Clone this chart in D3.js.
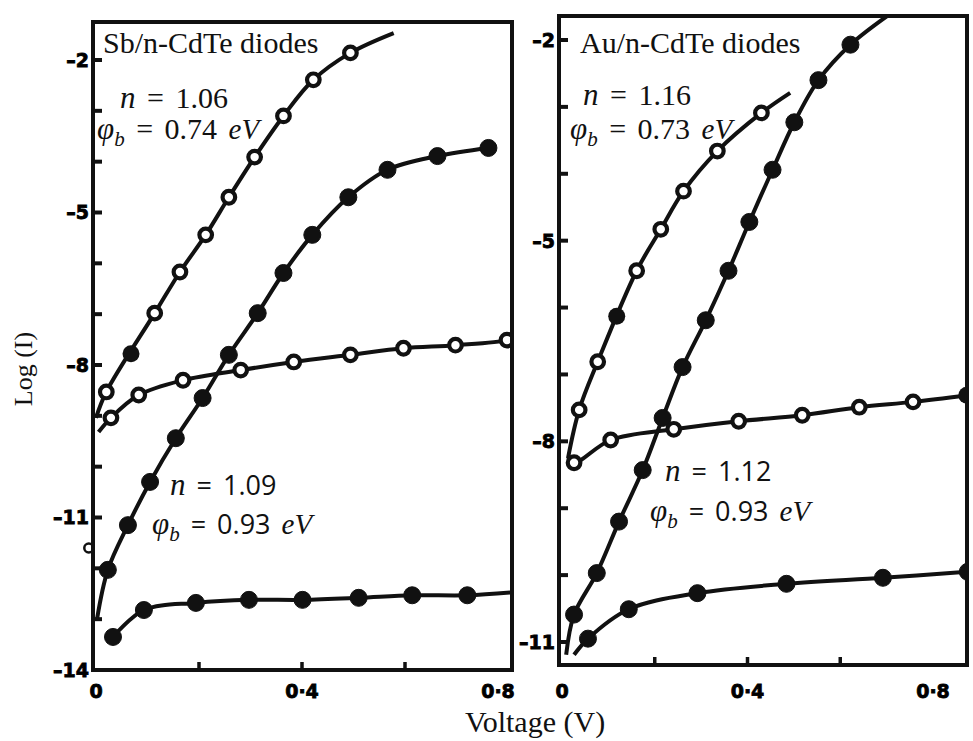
<!DOCTYPE html>
<html>
<head>
<meta charset="utf-8">
<script src="https://cdn.jsdelivr.net/npm/d3@7"></script>
<style>
  body { margin: 0; background: #fff; }
  .tick-lab { font-family: "DejaVu Sans", sans-serif; font-weight: bold; font-size: 19px; fill: #000; stroke: #000; stroke-width: 0.8px; }
  .title { font-family: "Liberation Serif", serif; font-size: 30px; fill: #111; }
  .ann { font-family: "Liberation Serif", serif; font-size: 30px; fill: #111; word-spacing: 4px; }
  .ann2 { font-family: "Open Sans", sans-serif; font-size: 27px; fill: #111; word-spacing: 4px; }
  .axis-lab { font-family: "Liberation Serif", serif; font-size: 30px; fill: #111; }
</style>
</head>
<body>
<div id="chart"></div>
<script>
// ---- data: [voltage (V), log(I)] ----
// Sb/n-CdTe panel
const sbOpenSteep = [[0.02,-8.53],[0.114,-6.98],[0.163,-6.17],[0.213,-5.44],[0.258,-4.70],[0.308,-3.91],[0.364,-3.10],[0.422,-2.39],[0.494,-1.86]]
const sbOpenSteepEnds = [[0.0,-9.04],[0.578,-1.47]]
const sbFilledSteep = [[0.023,-12.03],[0.062,-11.15],[0.105,-10.30],[0.155,-9.44],[0.207,-8.65],[0.258,-7.80],[0.314,-6.98],[0.364,-6.19],[0.42,-5.44],[0.49,-4.70],[0.566,-4.16],[0.663,-3.89],[0.762,-3.73]]
const sbFilledSteepEnds = [[0.002,-13.0],null]
const sbOpenFlat = [[0.029,-9.04],[0.083,-8.59],[0.169,-8.30],[0.281,-8.10],[0.384,-7.94],[0.494,-7.80],[0.597,-7.67],[0.698,-7.61],[0.798,-7.51]]
const sbOpenFlatEnds = [[0.005,-9.32],[0.81,-7.45]]
const sbFilledFlat = [[0.033,-13.35],[0.093,-12.82],[0.194,-12.68],[0.297,-12.62],[0.401,-12.62],[0.51,-12.58],[0.614,-12.53],[0.721,-12.53]]
const sbFilledFlatEnds = [null,[0.81,-12.47]]
const sbOddFilled = [[0.068,-7.78]]
const sbOddOpen = [[-0.014,-11.6]]

// Au/n-CdTe panel
const auOpenSteep = [[0.037,-7.53],[0.077,-6.81],[0.161,-5.45],[0.213,-4.83],[0.262,-4.26],[0.335,-3.66],[0.43,-3.09]]
const auOpenSteepEnds = [[0.013,-8.25],[0.492,-2.79]]
const auFilledSteep = [[0.026,-10.59],[0.075,-9.97],[0.123,-9.20],[0.174,-8.43],[0.217,-7.65],[0.26,-6.89],[0.31,-6.19],[0.359,-5.45],[0.404,-4.72],[0.454,-3.94],[0.501,-3.23],[0.553,-2.60],[0.622,-2.07]]
const auFilledSteepEnds = [[0.009,-11.19],[0.72,-1.55]]
const auOpenFlat = [[0.026,-8.32],[0.105,-7.98],[0.241,-7.82],[0.381,-7.70],[0.518,-7.61],[0.641,-7.49],[0.757,-7.41]]
const auOpenFlatEnds = [[0.013,-8.23],[0.873,-7.31]]
const auFilledFlat = [[0.056,-10.95],[0.144,-10.51],[0.292,-10.27],[0.484,-10.13],[0.692,-10.04],[0.875,-9.95]]
const auFilledFlatEnds = [[0.026,-11.19],null]
const auOddFilled = [[0.118,-6.13],[0.873,-7.31]]

const xTickLabels = ['0','0·4','0·8']
const xTickValues = [0, 0.4, 0.8]
const xMinorTicks = [0.2, 0.4, 0.6]
const sbYLabels = [-2,-5,-8,-11,-14]
const auYLabels = [-2,-5,-8,-11]

const width = 973, height = 741

const svg = d3.select('#chart').append('svg')
  .attr('width', width)
  .attr('height', height)

const panels = [
  {
    id: 'sb', frame: [93, 22, 512, 670],
    x: d3.scaleLinear().domain([0, 0.8]).range([96, 508]),
    y: d3.scaleLinear().domain([-2, -14]).range([60, 670]),
    yLabels: sbYLabels, yMinor: d3.range(-2, -14, -1),
    series: [
      {pts: sbOpenSteep, ends: sbOpenSteepEnds, open: true},
      {pts: sbFilledSteep, ends: sbFilledSteepEnds, open: false},
      {pts: sbOpenFlat, ends: sbOpenFlatEnds, open: true},
      {pts: sbFilledFlat, ends: sbFilledFlatEnds, open: false}
    ],
    oddFilled: sbOddFilled, oddOpen: sbOddOpen,
    title: 'Sb/n-CdTe diodes', titlePos: [103, 53],
    ann: [
      {n: '1.06', phi: '0.74', np: [120, 108], pp: [97, 139], sans: false},
      {n: '1.09', phi: '0.93', np: [170, 495], pp: [152, 534], sans: true}
    ]
  },
  {
    id: 'au', frame: [559, 16, 967, 665],
    x: d3.scaleLinear().domain([0, 0.8]).range([562, 933]),
    y: d3.scaleLinear().domain([-2, -11]).range([40, 642]),
    yLabels: auYLabels, yMinor: d3.range(-2, -12, -1),
    series: [
      {pts: auOpenSteep, ends: auOpenSteepEnds, open: true},
      {pts: auFilledSteep, ends: auFilledSteepEnds, open: false},
      {pts: auOpenFlat, ends: auOpenFlatEnds, open: true},
      {pts: auFilledFlat, ends: auFilledFlatEnds, open: false}
    ],
    oddFilled: auOddFilled, oddOpen: [],
    title: 'Au/n-CdTe diodes', titlePos: [580, 53],
    ann: [
      {n: '1.16', phi: '0.73', np: [583, 105], pp: [570, 139], sans: false},
      {n: '1.12', phi: '0.93', np: [665, 481], pp: [650, 521], sans: true}
    ]
  }
]

panels.forEach(p => {
  const [x0, y0, x1, y1] = p.frame
  const g = svg.append('g')

  g.append('clipPath').attr('id', 'clip-' + p.id)
    .append('rect').attr('x', x0).attr('y', y0).attr('width', x1 - x0).attr('height', y1 - y0)

  // curves
  const line = d3.line()
    .x(d => p.x(d[0]))
    .y(d => p.y(d[1]))
    .curve(d3.curveCatmullRom.alpha(0.5))

  const plot = g.append('g').attr('clip-path', 'url(#clip-' + p.id + ')')

  p.series.forEach(s => {
    let all = s.pts.slice()
    if (s.ends[0]) all.unshift(s.ends[0])
    if (s.ends[1]) all.push(s.ends[1])
    plot.append('path')
      .attr('d', line(all))
      .attr('fill', 'none')
      .attr('stroke', '#111')
      .attr('stroke-width', 4)
  })

  p.series.forEach(s => {
    plot.selectAll(null)
      .data(s.pts)
      .enter()
      .append('circle')
      .attr('cx', d => p.x(d[0]))
      .attr('cy', d => p.y(d[1]))
      .attr('r', s.open ? 6.3 : 8.5)
      .attr('fill', s.open ? '#fff' : '#111')
      .attr('stroke', '#111')
      .attr('stroke-width', s.open ? 4.2 : 1)
  })

  plot.selectAll(null)
    .data(p.oddFilled)
    .enter()
    .append('circle')
    .attr('cx', d => p.x(d[0]))
    .attr('cy', d => p.y(d[1]))
    .attr('r', 8.5)
    .attr('fill', '#111')

  g.selectAll(null)
    .data(p.oddOpen)
    .enter()
    .append('circle')
    .attr('cx', d => p.x(d[0]))
    .attr('cy', d => p.y(d[1]))
    .attr('r', 4.5)
    .attr('fill', '#fff')
    .attr('stroke', '#111')
    .attr('stroke-width', 2.5)

  // frame
  g.append('rect')
    .attr('x', x0).attr('y', y0)
    .attr('width', x1 - x0).attr('height', y1 - y0)
    .attr('fill', 'none')
    .attr('stroke', '#111')
    .attr('stroke-width', 4)

  // y ticks (inward)
  g.selectAll(null)
    .data(p.yMinor)
    .enter()
    .append('line')
    .attr('x1', x0).attr('x2', x0 + 9)
    .attr('y1', d => p.y(d)).attr('y2', d => p.y(d))
    .attr('stroke', '#111').attr('stroke-width', 4)

  g.selectAll(null)
    .data(p.yLabels)
    .enter()
    .append('text')
    .attr('class', 'tick-lab')
    .attr('x', x0 - 4)
    .attr('y', d => p.y(d))
    .attr('dy', '0.36em')
    .attr('text-anchor', 'end')
    .text(d => '\u2013' + Math.abs(d))

  // x ticks
  g.selectAll(null)
    .data(xMinorTicks)
    .enter()
    .append('line')
    .attr('x1', d => p.x(d)).attr('x2', d => p.x(d))
    .attr('y1', y1).attr('y2', y1 - 8)
    .attr('stroke', '#111').attr('stroke-width', 3.5)

  g.selectAll(null)
    .data(xTickValues)
    .enter()
    .append('text')
    .attr('class', 'tick-lab')
    .attr('x', (d, i) => p.x(d) + (i === 2 && p.id === 'sb' ? -10 : 0))
    .attr('y', 698)
    .attr('text-anchor', 'middle')
    .text((d, i) => xTickLabels[i])

  // title
  g.append('text')
    .attr('class', 'title')
    .attr('x', p.titlePos[0]).attr('y', p.titlePos[1])
    .text(p.title)

  // annotations
  p.ann.forEach(a => {
    const cls = a.sans ? 'ann2' : 'ann'
    const t1 = g.append('text').attr('class', cls).attr('x', a.np[0]).attr('y', a.np[1])
    t1.append('tspan').attr('font-family', 'Liberation Serif, serif').attr('font-style', 'italic').attr('font-size', 31).text('n')
    t1.append('tspan').text(' = ' + a.n)

    const t2 = g.append('text').attr('class', cls).attr('x', a.pp[0]).attr('y', a.pp[1])
    t2.append('tspan').attr('font-family', 'Liberation Serif, serif').attr('font-style', 'italic').attr('font-size', 31).text('\u03c6')
    t2.append('tspan').attr('font-family', 'Liberation Serif, serif').attr('font-style', 'italic').attr('font-size', 21).attr('dy', 7).text('b')
    t2.append('tspan').attr('dy', -7).text(' = ' + a.phi + ' ')
    t2.append('tspan').attr('font-family', 'Liberation Serif, serif').attr('font-style', 'italic').attr('font-size', 29).text('eV')
  })
})

// axis labels
svg.append('text')
  .attr('class', 'axis-lab')
  .attr('style', 'font-size:26px')
  .attr('transform', 'translate(32,369) rotate(-90)')
  .attr('text-anchor', 'middle')
  .text('Log (I)')

svg.append('text')
  .attr('class', 'axis-lab')
  .attr('x', 535).attr('y', 732)
  .attr('text-anchor', 'middle')
  .text('Voltage (V)')
</script>
</body>
</html>
